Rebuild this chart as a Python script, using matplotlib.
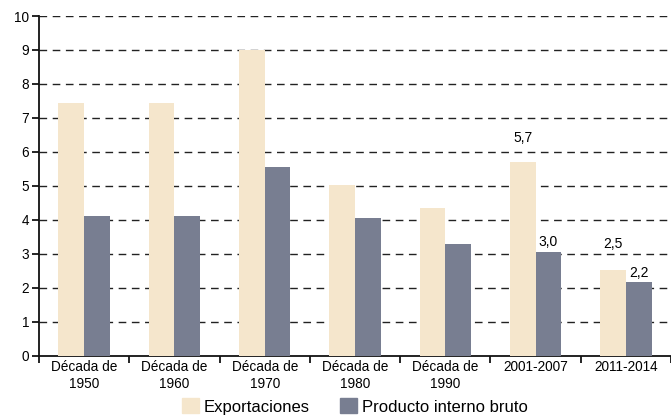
import matplotlib
matplotlib.use("Agg")
import matplotlib.pyplot as plt
import numpy as np
from matplotlib.patches import Patch

plt.rcParams['font.family'] = ['Liberation Sans', 'DejaVu Sans']

categories = ["Década de\n1950", "Década de\n1960", "Década de\n1970", "Década de\n1980",
              "Década de\n1990", "2001-2007", "2011-2014"]
exportaciones = [7.45, 7.45, 9.0, 5.02, 4.35, 5.7, 2.52]
pib = [4.11, 4.11, 5.56, 4.06, 3.3, 3.05, 2.16]
series_names = ["Exportaciones", "Producto interno bruto"]
# annotated labels: (category index, series index, text)
annotations = [(5, 0, "5,7"), (5, 1, "3,0"), (6, 0, "2,5"), (6, 1, "2,2")]
yticks = list(range(0, 11))

c_exp = "#F5E6CC"
c_pib = "#787E91"

fig = plt.figure(figsize=(6.71, 4.15), dpi=100)
ax = fig.add_axes([39/671, 1 - 355.7/415, 632/671, (355.7-16)/415])

x = np.arange(len(categories))
w = 0.285
ax.bar(x - w/2, exportaciones, w, color=c_exp, zorder=3)
ax.bar(x + w/2, pib, w, color=c_pib, zorder=3)

ax.set_xlim(-0.5, len(categories) - 0.5)
ax.set_ylim(0, 10)
ax.set_yticks(yticks)
ax.set_yticklabels([str(t) for t in yticks], fontsize=9.8)
for t in yticks[1:]:
    ax.axhline(t, color="#222222", lw=1.0, ls=(0, (5.5, 4)), zorder=1)

ax.set_xticks(np.arange(-0.5, len(categories) + 0.5, 1))
ax.set_xticklabels([])
ax.set_xticks(x, minor=True)
ax.set_xticklabels(categories, minor=True, fontsize=9.8, linespacing=1.3)
ax.tick_params(axis='x', which='minor', length=0, pad=3)
ax.tick_params(axis='x', which='major', length=5, width=1.2, direction='out')
ax.tick_params(axis='y', length=5, width=1.2, direction='out', pad=2)

for s in ["top", "right"]:
    ax.spines[s].set_visible(False)
for s in ["left", "bottom"]:
    ax.spines[s].set_linewidth(1.3)
    ax.spines[s].set_color("#111111")

offsets = {(5, 0): 12, (5, 1): 2, (6, 0): 14, (6, 1): 2}
for ci, si, txt in annotations:
    val = exportaciones[ci] if si == 0 else pib[ci]
    xpos = ci - w/2 if si == 0 else ci + w/2
    ax.annotate(txt, (xpos, val), xytext=(0, offsets[(ci, si)]), textcoords="offset points",
                ha="center", va="bottom", fontsize=10)

handles = [Patch(color=c_exp, label=series_names[0]), Patch(color=c_pib, label=series_names[1])]
fig.legend(handles=handles, loc="lower center", bbox_to_anchor=((39+671)/2/671, -0.035), ncol=2,
           frameon=False, fontsize=12, handlelength=1.0, handleheight=1.0, handletextpad=0.3,
           columnspacing=1.8)

fig.savefig("out.png", dpi=100)
